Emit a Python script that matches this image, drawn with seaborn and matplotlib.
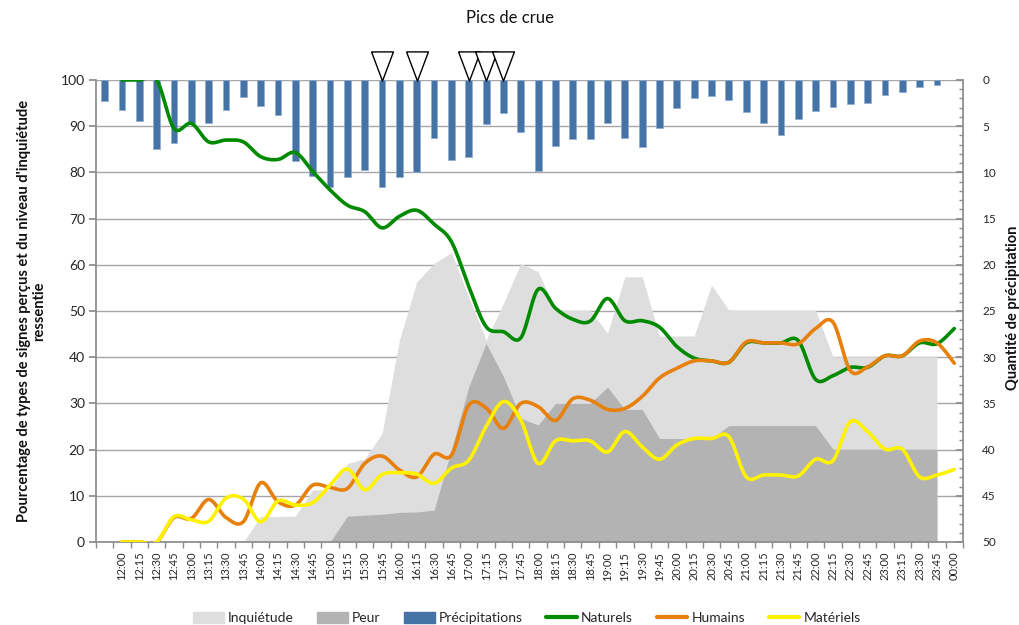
import numpy as np
import pandas as pd
import seaborn as sns
import matplotlib.pyplot as plt
import matplotlib.transforms as mtransforms
from matplotlib.patches import Patch
from matplotlib.lines import Line2D

nan = np.nan

heures = ["", "12:00", "12:15", "12:30", "12:45", "13:00", "13:15", "13:30", "13:45",
          "14:00", "14:15", "14:30", "14:45", "15:00", "15:15", "15:30", "15:45",
          "16:00", "16:15", "16:30", "16:45", "17:00", "17:15", "17:30", "17:45",
          "18:00", "18:15", "18:30", "18:45", "19:00", "19:15", "19:30", "19:45",
          "20:00", "20:15", "20:30", "20:45", "21:00", "21:15", "21:30", "21:45",
          "22:00", "22:15", "22:30", "22:45", "23:00", "23:15", "23:30", "23:45", "00:00"]

# quantite de precipitation (axe de droite, inverse)
precipitations = [2.3, 3.3, 4.4, 7.5, 6.8, 4.7, 4.7, 3.3, 1.8, 2.8, 3.8, 8.8, 10.4, 11.6, 10.5, 9.7,
                  11.6, 10.5, 10.0, 6.3, 8.7, 8.3, 4.8, 3.6, 5.6, 9.9, 7.1, 6.4, 6.4, 4.6, 6.3, 7.3,
                  5.2, 3.0, 1.9, 1.7, 2.2, 3.5, 4.6, 6.0, 4.2, 3.4, 2.9, 2.6, 2.5, 1.6, 1.3, 0.8,
                  0.5, nan]

inquietude = [0, 0, 0, 0, 0, 0, 0, 0, 0, 5.5, 5.5, 5.6, 11.3, 11.3, 17.0, 18.0,
              23.5, 43.7, 56.3, 60.3, 62.6, 53.0, 43.7, 51.7, 60.3, 58.5, 50.2, 50.2, 50.2, 45.2, 57.4, 57.4,
              44.6, 44.6, 44.6, 55.6, 50.2, 50.2, 50.2, 50.2, 50.2, 50.2, 40.1, 40.1, 40.1, 40.1, 40.1, 40.1,
              40.1, nan]

peur = [0, 0, 0, 0, 0, 0, 0, 0, 0, 0, 0, 0, 0, 0, 5.6, 5.8,
        6.0, 6.4, 6.5, 6.9, 20.0, 33.6, 43.0, 35.8, 26.8, 25.3, 30.0, 30.0, 30.0, 33.5, 28.7, 28.7,
        22.4, 22.4, 22.4, 22.4, 25.2, 25.2, 25.2, 25.2, 25.2, 25.2, 20.1, 20.1, 20.1, 20.1, 20.1, 20.1,
        20.1, nan]

naturels = [nan, 100, 100, 100, 89.5, 90.6, 86.6, 87.0, 86.6, 83.4, 82.8, 84.3, 80.2, 76.2, 72.9, 71.5,
            68.0, 70.5, 71.8, 68.8, 65.0, 55.3, 46.6, 45.5, 44.2, 54.7, 50.6, 48.2, 47.8, 52.7, 47.9, 47.9,
            46.5, 42.3, 39.8, 39.2, 38.9, 43.1, 43.1, 43.1, 43.6, 35.2, 36.0, 37.8, 37.8, 40.3, 40.3, 43.1,
            42.9, 46.2]

humains = [nan, 0, 0, 0, 5.3, 5.1, 9.2, 5.3, 4.4, 12.8, 8.7, 8.0, 12.3, 11.8, 11.6, 17.0,
           18.6, 15.6, 14.1, 19.0, 18.8, 29.6, 29.0, 24.6, 30.0, 29.3, 26.3, 31.0, 30.7, 28.7, 28.9, 31.5,
           35.5, 37.6, 39.2, 39.2, 38.9, 43.3, 43.1, 43.1, 42.9, 46.2, 47.6, 37.1, 37.9, 40.3, 40.3, 43.5,
           43.1, 38.7]

materiels = [nan, 0, 0, 0, 5.5, 4.8, 4.5, 9.5, 9.3, 4.4, 8.9, 8.0, 8.5, 12.3, 15.8, 11.3,
             14.6, 15.0, 14.7, 12.7, 16.0, 17.7, 25.0, 30.4, 26.4, 17.0, 21.9, 21.9, 21.9, 19.5, 23.9, 20.6,
             17.9, 21.0, 22.4, 22.4, 22.8, 14.1, 14.5, 14.5, 14.3, 17.9, 17.6, 26.0, 23.9, 20.1, 20.1, 14.1,
             14.5, 15.7]

pics = ["15:45", "16:15", "17:00", "17:15", "17:30"]


def lisser(valeurs, n=20):
    # courbe lissee comme dans Excel (bezier, tangentes de Catmull-Rom)
    v = np.asarray(valeurs, dtype=float)
    idx = np.flatnonzero(~np.isnan(v))
    x = idx.astype(float); y = v[idx]
    t = np.linspace(0, 1, n)
    xs, ys = [], []
    for k in range(len(x) - 1):
        k0 = max(k - 1, 0); k3 = min(k + 2, len(x) - 1)
        c1x = x[k] + (x[k + 1] - x[k0]) / 6; c1y = y[k] + (y[k + 1] - y[k0]) / 6
        c2x = x[k + 1] - (x[k3] - x[k]) / 6; c2y = y[k + 1] - (y[k3] - y[k]) / 6
        b = [(1 - t) ** 3, 3 * (1 - t) ** 2 * t, 3 * (1 - t) * t ** 2, t ** 3]
        xs.append(b[0] * x[k] + b[1] * c1x + b[2] * c2x + b[3] * x[k + 1])
        ys.append(b[0] * y[k] + b[1] * c1y + b[2] * c2y + b[3] * y[k + 1])
    return np.concatenate(xs), np.concatenate(ys)


sns.set_theme(style="white")
plt.rcParams['font.family'] = ['Lato', 'DejaVu Sans']

c_inq = '#dedede'; c_peur = '#b3b3b3'; c_pluie = '#4673a5'
c_nat = '#008a00'; c_hum = '#e8800c'; c_mat = '#fff200'
gris = '#8c8c8c'

fig = plt.figure(figsize=(10.19, 6.25), dpi=100)
ax = fig.add_axes([0.0942, 0.1328, 0.8508, 0.7392])
ax2 = ax.twinx()
ax.set_zorder(ax2.get_zorder() + 1)
ax.patch.set_visible(False)
ax2.patch.set_visible(False)

pos = np.arange(len(heures))

# barres de precipitation sur l'axe de droite
df_pluie = pd.DataFrame({'pos': pos, 'pluie': precipitations}).dropna()
sns.barplot(data=df_pluie, x='pos', y='pluie', ax=ax2, native_scale=True, color=c_pluie,
            saturation=1, width=0.39, edgecolor='#8fadd0', linewidth=0.5, zorder=3)
ax2.set_ylim(50, 0)
ax2.set_yticks(np.arange(0, 51, 5))
ax2.set_yticks(np.arange(0, 51, 1), minor=True)
ax2.grid(axis='y', which='major', color='#a6a6a6', lw=1)
ax2.grid(axis='x', visible=False)
ax2.tick_params(axis='y', which='major', direction='in', length=5, color=gris, labelsize=8.5, pad=14,
                right=True, labelcolor='#262626')
ax2.tick_params(axis='y', which='minor', direction='in', length=3, color=gris, right=True)
ax2.set_ylabel("Quantité de précipitation", fontsize=10.5, fontweight='bold', color='#111111')
ax2.yaxis.set_label_coords(1.05, 0.506)
for s in ['top', 'left', 'bottom']:
    ax2.spines[s].set_visible(False)
ax2.spines['right'].set_color(gris)

# aires
mask = ~np.isnan(np.asarray(inquietude, dtype=float))
ax.fill_between(pos[mask], np.asarray(inquietude)[mask], color=c_inq, lw=0, zorder=1)
ax.fill_between(pos[mask], np.asarray(peur)[mask], color=c_peur, lw=0, zorder=2)

# courbes lissees
for serie, couleur in [(naturels, c_nat), (humains, c_hum), (materiels, c_mat)]:
    xs, ys = lisser(serie)
    sns.lineplot(x=xs, y=ys, ax=ax, color=couleur, linewidth=2.6, sort=False, estimator=None, zorder=4)

# triangles des pics de crue
trans = mtransforms.blended_transform_factory(ax.transData, ax.transAxes)
trans = mtransforms.offset_copy(trans, fig=fig, y=10.4, units='points')
px = [heures.index(h) for h in pics]
ax.plot(px, [1] * len(px), transform=trans, linestyle='none',
        marker=[(-0.75, 1), (0.75, 1), (0, -1), (-0.75, 1)], ms=21, mfc='white', mec='black', mew=1,
        clip_on=False, zorder=6)

ax.set_xlim(-0.5, len(heures) - 0.5)
ax.set_ylim(0, 100)
ax.set_yticks(np.arange(0, 101, 10))
ax.set_xticks(pos)
ax.set_xticklabels(heures, rotation=90, fontsize=8, color='#262626')
ax.set_xticks(np.arange(-0.5, len(heures), 1), minor=True)
ax.tick_params(axis='x', which='major', length=0, pad=7)
ax.tick_params(axis='x', which='minor', direction='out', length=4, color=gris, bottom=True)
ax.tick_params(axis='y', direction='out', length=5, color=gris, labelsize=10, left=True,
               labelcolor='#262626', pad=3)
ax.grid(False)
ax.set_xlabel("")
ax.set_ylabel("Pourcentage de types de signes perçus et du niveau d'inquiétude\nressentie",
              fontsize=10.5, fontweight='bold', color='#111111', linespacing=1.1)
ax.yaxis.set_label_coords(-0.058, 0.5)
for s in ['top', 'right']:
    ax.spines[s].set_visible(False)
for s in ['left', 'bottom']:
    ax.spines[s].set_color(gris)

fig.text(0.5, 1 - 18 / 625, "Pics de crue", ha='center', va='center', fontsize=12, color='#111111')

poignees = [Patch(color=c_inq), Patch(color=c_peur), Patch(color=c_pluie),
            Line2D([], [], color=c_nat, lw=3), Line2D([], [], color=c_hum, lw=3),
            Line2D([], [], color=c_mat, lw=3)]
noms = ["Inquiétude", "Peur", "Précipitations", "Naturels", "Humains", "Matériels"]
fig.legend(poignees, noms, loc='center', bbox_to_anchor=(0.517, 1 - 618 / 625), ncol=6,
           frameon=False, fontsize=10, handlelength=2.2, handleheight=0.8,
           columnspacing=1.7, handletextpad=0.3, labelcolor='#262626')

fig.savefig("out.png", dpi=100)
